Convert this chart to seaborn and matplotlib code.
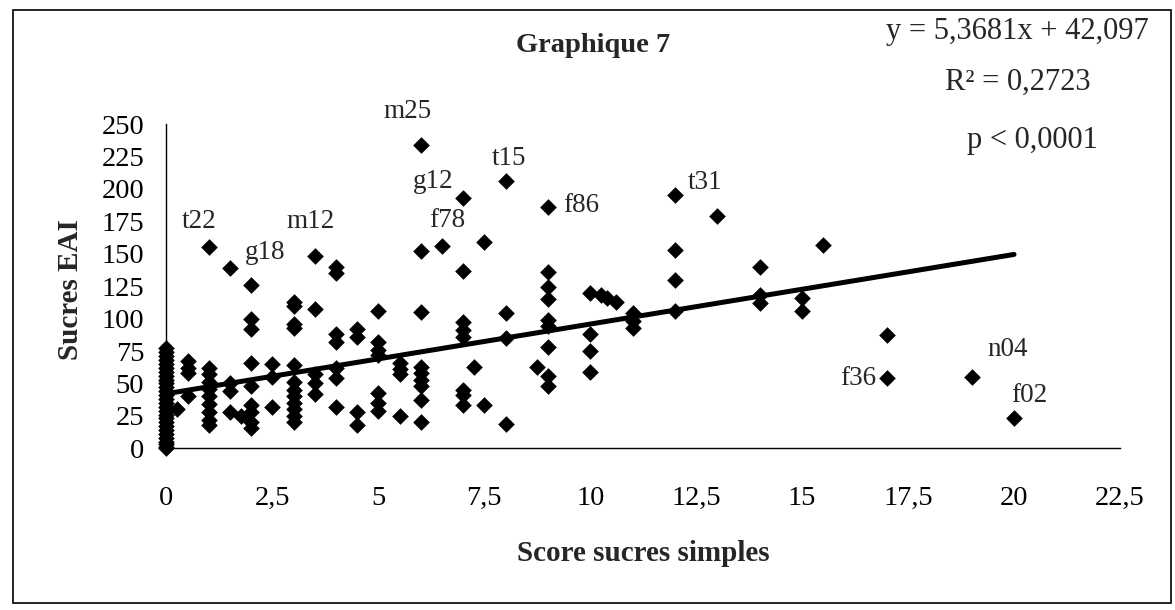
import numpy as np
import seaborn as sns
import matplotlib
matplotlib.use('Agg')
import matplotlib.pyplot as plt
import pandas as pd
from matplotlib.patches import Rectangle

# score sucres simples / sucres EAI
score = ([0] * 28 + [0.25] + [0.5] * 4 + [1] * 10 + [1.5] * 4 + [1.75]
         + [2] * 9 + [2.5] * 3 + [3] * 12 + [3.5] * 5 + [4] * 7 + [4.5] * 4
         + [5] * 7 + [5.5] * 4 + [6] * 9 + [6.5] + [7] * 8 + [7.25]
         + [7.5] * 2 + [8] * 4 + [8.75] + [9] * 9 + [10] * 4
         + [10.25, 10.4, 10.6] + [11] * 3 + [12] * 4 + [13] + [14] * 3
         + [15] * 2 + [15.5] + [17] * 2 + [19] + [20])
eai = ([77, 74, 71, 68, 65, 62, 59, 56, 53, 50, 47, 44, 41, 38, 35, 32, 29,
        26, 23, 20, 17, 14, 11, 8, 5, 3, 1, 0]
       + [30]
       + [67, 62, 58, 40]
       + [155, 62, 57, 51, 46, 40, 34, 28, 22, 18]
       + [139, 50, 44, 28]
       + [25]
       + [126, 100, 92, 66, 48, 33, 28, 20, 16]
       + [65, 55, 32]
       + [113, 110, 96, 93, 64, 51, 45, 40, 35, 30, 25, 20]
       + [148, 107, 57, 50, 42]
       + [140, 135, 88, 82, 62, 54, 32]
       + [92, 86, 28, 18]
       + [106, 82, 76, 72, 43, 35, 29]
       + [66, 61, 57, 25]
       + [234, 152, 105, 63, 58, 53, 48, 37, 20]
       + [156]
       + [193, 137, 97, 91, 86, 45, 41, 33]
       + [63]
       + [159, 33]
       + [206, 104, 85, 19]
       + [63]
       + [186, 136, 124, 115, 99, 94, 78, 56, 48]
       + [120, 88, 75, 59]
       + [118, 116, 113]
       + [104, 98, 93]
       + [195, 153, 130, 106]
       + [179]
       + [140, 118, 112]
       + [116, 106]
       + [157]
       + [87, 54]
       + [55]
       + [23])

# labelled subjects: (name, score, eai)
label_names = ['m25', 't15', 'g12', 'f78', 'm12', 'g18', 't22', 'f86', 't31', 'f36', 'n04', 'f02']
label_x = [6, 8, 7, 6.5, 3.5, 2, 1, 9, 12, 17, 19, 20]
label_y = [234, 206, 193, 156, 148, 126, 155, 186, 195, 54, 55, 23]
# text offsets in pixels (right, up)
label_dx = [-13, 3, -30, 5, -4, 14, -10, 33, 30, -29, 36, 15]
label_dy = [33, 23, 16, 25, 35, 32, 26, 2, 13, 0, 27, 23]

slope = 5.3681
intercept = 42.097
x_ticks = [0, 2.5, 5, 7.5, 10, 12.5, 15, 17.5, 20, 22.5]
y_ticks = list(range(0, 251, 25))

df = pd.DataFrame({'score': score, 'eai': eai})

sns.set_style('white')
plt.rcParams['font.family'] = ['Liberation Serif', 'DejaVu Serif']

fig = plt.figure(figsize=(11.75, 6.1), dpi=100)
ax = fig.add_axes([0.1417, 0.2651, 0.8115, 0.5316])

sns.scatterplot(data=df, x='score', y='eai', marker='D', color='black',
                s=72, linewidth=0, ax=ax, clip_on=False, zorder=3)

# regression line from the fitted equation
x_fit = np.array([min(score), max(score)])
ax.plot(x_fit, intercept + slope * x_fit, color='black', lw=3.6,
        solid_capstyle='round', zorder=4)

for name, lx, ly, dx, dy in zip(label_names, label_x, label_y, label_dx, label_dy):
    ax.annotate(name, (lx, ly), xytext=(dx, dy), textcoords='offset pixels',
                ha='center', va='center', fontsize=19.5)

ax.set_xlim(0, 22.5)
ax.set_ylim(0, 250)
ax.set_xticks(x_ticks)
ax.set_xticklabels([('%g' % t).replace('.', ',') for t in x_ticks])
ax.set_yticks(y_ticks)
ax.tick_params(axis='both', direction='inout', length=14, width=1,
               color='black', labelsize=20.5, labelcolor='black')
ax.tick_params(axis='x', pad=20)
ax.tick_params(axis='y', pad=9)

for side in ['top', 'right']:
    ax.spines[side].set_visible(False)
for side in ['left', 'bottom']:
    ax.spines[side].set_color('black')
    ax.spines[side].set_linewidth(1)

ax.set_xlabel('Score sucres simples', fontsize=21, fontweight='bold')
ax.set_ylabel('Sucres EAI', fontsize=21, fontweight='bold')
ax.xaxis.set_label_coords(0.5, -0.283)
ax.yaxis.set_label_coords(-0.087, 0.49)

fig.text(0.505, 0.926, 'Graphique 7', ha='center', va='center',
         fontsize=20.5, fontweight='bold')
fig.text(0.866, 0.948, 'y = 5,3681x + 42,097', ha='center', va='center', fontsize=22)
fig.text(0.866, 0.865, 'R² = 0,2723', ha='center', va='center', fontsize=22)
fig.text(0.879, 0.769, 'p < 0,0001', ha='center', va='center', fontsize=22)

fig.patches.append(Rectangle((0.011, 0.012), 0.986, 0.972, transform=fig.transFigure,
                             fill=False, edgecolor='black', lw=1.2))

plt.savefig('out.png', dpi=100)
